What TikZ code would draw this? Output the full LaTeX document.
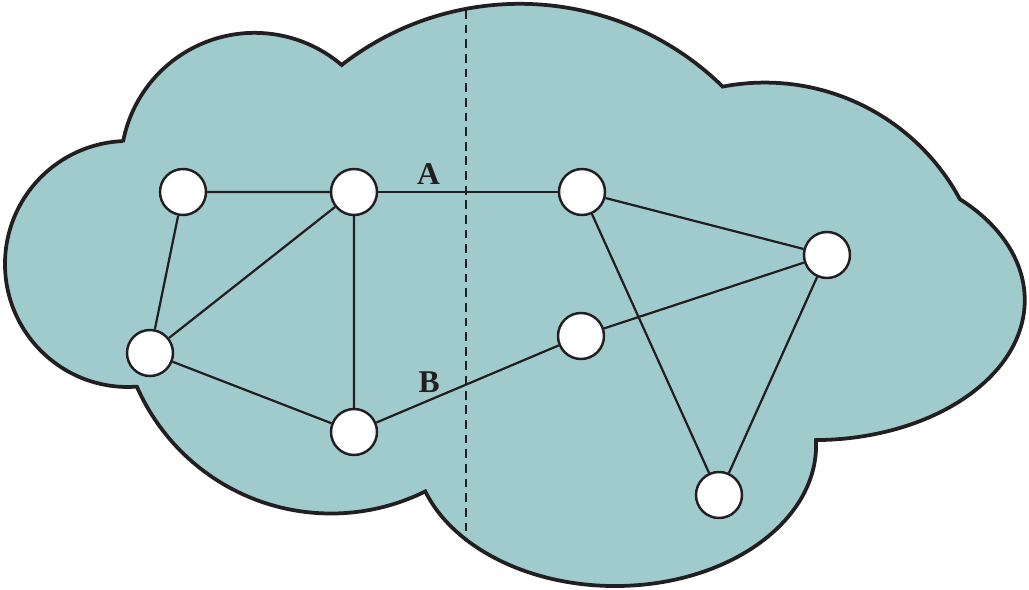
\documentclass[tikz,border=0pt]{standalone}
\usepackage{fontspec}
\setmainfont{Liberation Serif}
\usepackage{xcolor}
\definecolor{ink}{HTML}{231F20}
\definecolor{cloudfill}{HTML}{A0CBCD}

\begin{document}
\begin{tikzpicture}[x=0.03cm,y=0.03cm,
  host/.style={circle,draw=ink,fill=white,line width=2.1pt,minimum size=1.38cm,inner sep=0pt},
  link/.style={ink,line width=1.9pt},
  cut/.style={ink,line width=2pt,dash pattern=on 7.5pt off 5pt},
  tag/.style={font=\fontsize{27}{30}\selectfont\bfseries,text=ink,inner sep=1pt}]
\useasboundingbox (0,0) rectangle (1029,590);
% cloud outline, one arc per bump
\draw[ink,fill=cloudfill,line width=3.2pt] (123,448)
  arc[start angle=169.3,end angle=49.5,radius=134]
  arc[start angle=127.9,end angle=45.6,radius=290]
  arc[start angle=100.95,end angle=28.3,radius=221.5]
  arc[start angle=46.2,end angle=-89.4,x radius=211,y radius=140]
  arc[start angle=2,end angle=-160.8,x radius=201,y radius=141]
  arc[start angle=-63.6,end angle=-156.3,radius=212]
  -- (128,203)
  arc[start angle=-90,end angle=-267.7,radius=123]
  -- cycle;
% partition
\coordinate (cuttop) at (466,580);
\coordinate (cutbot) at (466,58);
\draw[cut] (cuttop) -- (cutbot);
% hosts
\node[host] (la) at (183,398) {};
\node[host] (lb) at (354,398) {};
\node[host] (lc) at (150,237) {};
\node[host] (ld) at (354,158) {};
\node[host] (ra) at (582,398) {};
\node[host] (rb) at (827,335) {};
\node[host] (rc) at (581,254) {};
\node[host] (rd) at (719,95) {};
% links
\draw[link] (la) -- (lb) (la) -- (lc) (lb) -- (lc) (lb) -- (ld) (lc) -- (ld);
\draw[link] (ra) -- (rb) (ra) -- (rd) (rc) -- (rb) (rb) -- (rd);
\draw[link] (lb) -- node[tag,pos=0.28,above=4.5pt]{A} (ra);
\draw[link] (ld) -- node[tag,pos=0.29,above=4.5pt]{B} (rc);
\end{tikzpicture}
\end{document}
